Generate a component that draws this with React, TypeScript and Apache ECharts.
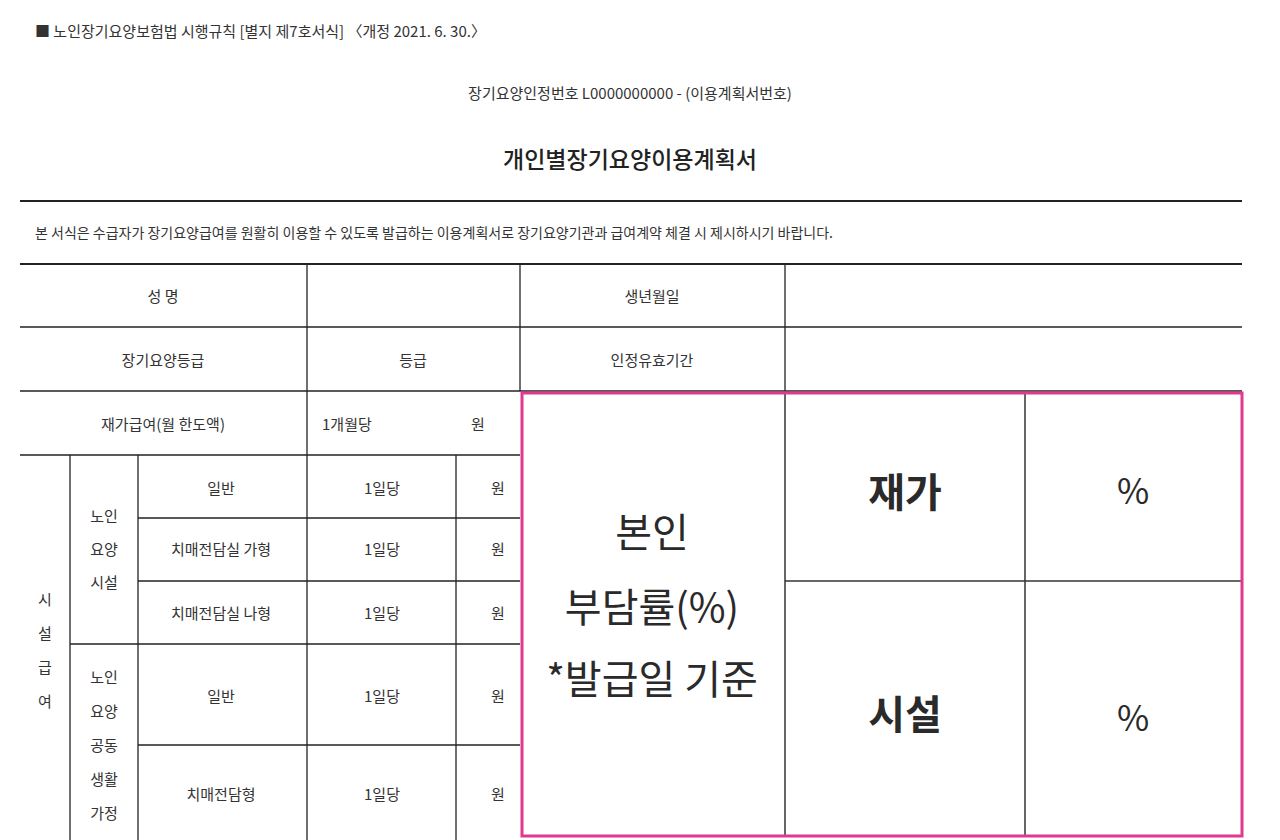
import React, { useEffect, useRef } from "react";
import * as echarts from "echarts";

const headerNote = "■ 노인장기요양보험법 시행규칙 [별지 제7호서식] 〈개정 2021. 6. 30.〉";
const certNo = "장기요양인정번호 L0000000000 - (이용계획서번호)";
const formTitle = "개인별장기요양이용계획서";
const description =
  "본 서식은 수급자가 장기요양급여를 원활히 이용할 수 있도록 발급하는 이용계획서로 장기요양기관과 급여계약 체결 시 제시하시기 바랍니다.";
const infoLabels = ["성 명", "생년월일", "장기요양등급", "등급", "인정유효기간"];
const homeLabel = "재가급여(월 한도액)";
const facilityChars = ["시", "설", "급", "여"];
const nursingHomeChars = ["노인", "요양", "시설"];
const groupHomeChars = ["노인", "요양", "공동", "생활", "가정"];
const facilityRows = ["일반", "치매전담실 가형", "치매전담실 나형", "일반", "치매전담형"];
const rowCenters = [487, 548, 612, 695, 793];
const burdenLines = ["본인", "부담률(%)", "*발급일 기준"];
const burdenTypes = ["재가", "시설"];

const FONT = '"Noto Sans CJK KR", "Noto Sans", sans-serif';
const INK = "#333";

export default function App() {
  const ref = useRef<HTMLDivElement>(null);

  useEffect(() => {
    if (!ref.current) return;
    const chart = echarts.init(ref.current, null, { renderer: "svg" });

    const line = (x1: number, y1: number, x2: number, y2: number, w = 1.3, c = "#222") => ({
      type: "line",
      shape: { x1, y1, x2, y2 },
      style: { stroke: c, lineWidth: w },
      silent: true,
    });
    const text = (t: string, x: number, y: number, size = 15, align = "center", weight: any = "normal", color = INK) => ({
      type: "text",
      x,
      y,
      style: { text: t, font: `${weight} ${size}px ${FONT}`, fill: color, align, verticalAlign: "middle" },
      silent: true,
    });

    const els: any[] = [
      text(headerNote, 35, 30, 15, "left"),
      text(certNo, 630, 92, 15),
      text(formTitle, 630, 158, 23, "center", 500, "#222"),
      line(20, 201, 1242, 201, 2),
      text(description, 35, 232, 14, "left"),
      line(20, 264, 1242, 264, 2),
      line(20, 327, 1242, 327),
      line(20, 391, 1242, 391),
      line(20, 455, 520, 455),
      line(138, 518, 520, 518),
      line(138, 581, 520, 581),
      line(70, 644, 520, 644),
      line(138, 745, 520, 745),
      line(307, 264, 307, 840),
      line(520, 264, 520, 391),
      line(785, 264, 785, 391),
      line(70, 455, 70, 840),
      line(138, 455, 138, 840),
      line(456, 455, 456, 840),
      text(infoLabels[0], 163, 295),
      text(infoLabels[1], 652, 295),
      text(infoLabels[2], 163, 359),
      text(infoLabels[3], 413, 359),
      text(infoLabels[4], 652, 359),
      text(homeLabel, 163, 423),
      text("1개월당", 322, 423, 15, "left"),
      text("원", 478, 423),
    ];
    facilityChars.forEach((c, i) => els.push(text(c, 45, 598 + i * 34)));
    nursingHomeChars.forEach((c, i) => els.push(text(c, 104, 515 + i * 33)));
    groupHomeChars.forEach((c, i) => els.push(text(c, 104, 676 + i * 34)));
    facilityRows.forEach((r, i) => {
      els.push(text(r, 221, rowCenters[i]));
      els.push(text("1일당", 382, rowCenters[i]));
      els.push(text("원", 498, rowCenters[i]));
    });

    // highlighted co-payment block
    els.push(line(785, 393, 785, 836, 1.5, "#333"));
    els.push(line(1025, 393, 1025, 836, 1.5, "#333"));
    els.push(line(785, 581, 1242, 581, 1.5, "#333"));
    els.push({
      type: "rect",
      shape: { x: 522, y: 393, width: 720, height: 443 },
      style: { fill: "none", stroke: "#e0398f", lineWidth: 3 },
      silent: true,
    });
    [530, 605, 677].forEach((y, i) => els.push(text(burdenLines[i], 652, y, 40, "center", "normal", "#2a2a2a")));
    els.push(text(burdenTypes[0], 905, 490, 40, "center", "bold", "#2a2a2a"));
    els.push(text(burdenTypes[1], 905, 712, 40, "center", "bold", "#2a2a2a"));
    els.push(text("%", 1133, 488, 35, "center", "normal", "#2a2a2a"));
    els.push(text("%", 1133, 715, 35, "center", "normal", "#2a2a2a"));

    chart.setOption({
      animation: false,
      backgroundColor: "#fff",
      graphic: { elements: els },
    });
    return () => chart.dispose();
  }, []);

  return (
    <div
      ref={ref}
      style={{ position: "absolute", left: 0, top: 0, width: 1280, height: 840, background: "#fff" }}
    />
  );
}
